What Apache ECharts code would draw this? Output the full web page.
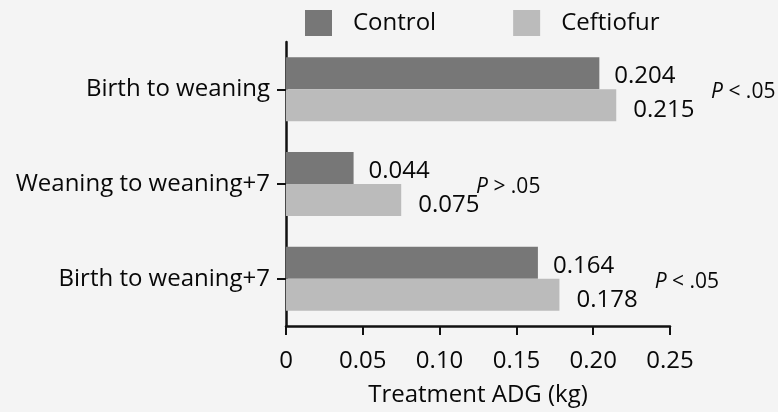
<!DOCTYPE html>
<html>
<head>
<meta charset="utf-8">
<script src="https://cdn.jsdelivr.net/npm/echarts@6/dist/echarts.min.js"></script>
<style>
html,body{margin:0;padding:0;background:#f4f4f4;}
#chart{width:778px;height:412px;}
</style>
</head>
<body>
<div id="chart"></div>
<script>
var categories = ['Birth to weaning', 'Weaning to weaning+7', 'Birth to weaning+7'];
var controlValues = [0.204, 0.044, 0.164];
var ceftiofurValues = [0.215, 0.075, 0.178];
var xTickLabels = ['0', '0.05', '0.10', '0.15', '0.20', '0.25'];
var pSigns = ['<', '>', '<'];
var pAnchorX = [0.2767, 0.1237, 0.2400];

var FONT = 'Open Sans';
var TXT = '#080808';

var chart = echarts.init(document.getElementById('chart'), null, {renderer: 'canvas'});
var pData = categories.map(function (c, i) { return {value: [pAnchorX[i], c], sign: pSigns[i]}; });

chart.setOption({
  backgroundColor: '#f4f4f4',
  animation: false,
  textStyle: {fontFamily: FONT},
  legend: {
    left: 300, top: 5,
    itemWidth: 27, itemHeight: 26, itemGap: 77,
    icon: 'rect',
    data: ['Control', 'Ceftiofur'],
    textStyle: {fontFamily: FONT, fontSize: 24, color: TXT, padding: [0, 0, 0, 16]}
  },
  grid: {left: 286, right: 108, top: 42, bottom: 83, containLabel: false},
  xAxis: {
    type: 'value', min: 0, max: 0.25, interval: 0.05,
    name: 'Treatment ADG (kg)', nameLocation: 'middle', nameGap: 57,
    nameTextStyle: {fontFamily: FONT, fontSize: 24, color: TXT},
    axisLine: {show: true, lineStyle: {color: '#111', width: 2.5}},
    axisTick: {show: true, length: 9, lineStyle: {color: '#111', width: 2}},
    splitLine: {show: false},
    axisLabel: {
      fontFamily: FONT, fontSize: 24, color: TXT, margin: 23,
      formatter: function (v) { return xTickLabels[Math.round(v / 0.05)]; }
    }
  },
  yAxis: {
    type: 'category', data: categories, inverse: true,
    axisLine: {show: true, lineStyle: {color: '#111', width: 2.5}},
    axisTick: {show: true, alignWithLabel: true, length: 9, lineStyle: {color: '#111', width: 2}},
    axisLabel: {fontFamily: FONT, fontSize: 24, color: TXT, margin: 16}
  },
  series: [
    {
      name: 'Control', type: 'bar', data: controlValues,
      barWidth: 32, barGap: '0%',
      itemStyle: {color: '#777777'},
      label: {show: true, position: 'right', distance: 15, offset: [0, 3],
        fontFamily: FONT, fontSize: 24, color: TXT,
        formatter: function (p) { return p.value.toFixed(3); }}
    },
    {
      name: 'Ceftiofur', type: 'bar', data: ceftiofurValues,
      barWidth: 32, barGap: '0%',
      itemStyle: {color: '#bbbbbb'},
      label: {show: true, position: 'right', distance: 17, offset: [0, 5],
        fontFamily: FONT, fontSize: 24, color: TXT,
        formatter: function (p) { return p.value.toFixed(3); }}
    },
    {
      name: 'P', type: 'scatter', data: pData,
      symbol: 'circle', symbolSize: 0.1, itemStyle: {color: '#f4f4f4', opacity: 1},
      silent: true, clip: false, z: 5,
      emphasis: {disabled: true},
      label: {
        show: true, position: 'right', distance: 0, offset: [0, 3],
        fontFamily: FONT, fontSize: 21, color: TXT, opacity: 1,
        formatter: function (p) { return '{i|P}{n| ' + p.data.sign + ' .05}'; },
        rich: {
          i: {fontFamily: FONT, fontSize: 21, fontStyle: 'italic', color: TXT},
          n: {fontFamily: FONT, fontSize: 21, color: TXT}
        }
      }
    }
  ]
});
</script>
</body>
</html>
